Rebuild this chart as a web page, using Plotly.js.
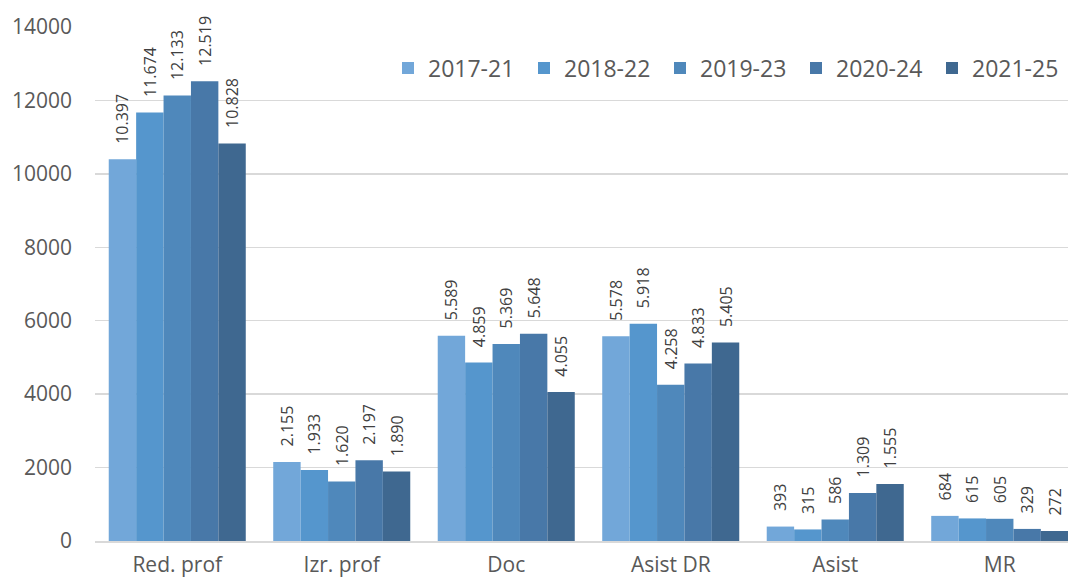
<!DOCTYPE html>
<html>
<head>
<meta charset="utf-8">
<script src="https://cdn.plot.ly/plotly-3.0.1.min.js"></script>
<style>
  html, body { margin: 0; padding: 0; background: #fff; }
  #chart { width: 1068px; height: 581px; }
</style>
</head>
<body>
<div id="chart"></div>
<script>
var categories = ['Red. prof', 'Izr. prof', 'Doc', 'Asist DR', 'Asist', 'MR'];
var seriesNames = ['2017-21', '2018-22', '2019-23', '2020-24', '2021-25'];
var v2017 = [10397, 2155, 5589, 5578, 393, 684];
var v2018 = [11674, 1933, 4859, 5918, 315, 615];
var v2019 = [12133, 1620, 5369, 4258, 586, 605];
var v2020 = [12519, 2197, 5648, 4833, 1309, 329];
var v2021 = [10828, 1890, 4055, 5405, 1555, 272];
var colors = ['#72a7d9', '#5596cd', '#4f88bb', '#4878a8', '#3f6890'];

var allValues = [v2017, v2018, v2019, v2020, v2021];
var data = [];
for (var i = 0; i < seriesNames.length; i++) {
  data.push({
    type: 'bar',
    name: seriesNames[i],
    x: categories,
    y: allValues[i],
    marker: { color: colors[i] },
    // non-breaking spaces push the rotated label up off the bar top
    texttemplate: '\u00a0\u00a0\u00a0%{y:,}',
    textposition: 'outside',
    textangle: -90,
    constraintext: 'none',
    cliponaxis: false,
    outsidetextfont: { family: 'Open Sans', size: 16, color: '#404040' },
    hoverinfo: 'x+y+name'
  });
}

var layout = {
  width: 1068,
  height: 581,
  margin: { l: 95, r: 0, t: 27, b: 40, autoexpand: false },
  paper_bgcolor: '#ffffff',
  plot_bgcolor: '#ffffff',
  separators: ',.',
  barmode: 'group',
  bargap: 0.167,
  bargroupgap: 0,
  font: { family: 'Open Sans', color: '#595959' },
  xaxis: {
    range: [-0.5, 5.415],
    showline: true,
    linecolor: '#d9d9d9',
    linewidth: 2,
    ticks: '',
    ticklabelstandoff: 4,
    tickfont: { size: 21, color: '#595959' },
    showgrid: false
  },
  yaxis: {
    range: [0, 14000],
    dtick: 2000,
    tick0: 0,
    showgrid: true,
    gridcolor: '#d9d9d9',
    gridwidth: 1.5,
    zeroline: false,
    showline: false,
    ticks: '',
    ticklabelstandoff: 22,
    tickformat: 'd',
    tickfont: { size: 21, color: '#595959' }
  },
  showlegend: true,
  legend: {
    orientation: 'h',
    x: 1,
    xanchor: 'right',
    y: 0.92,
    yanchor: 'middle',
    font: { size: 23, color: '#595959' },
    entrywidth: 91,
    entrywidthmode: 'pixels',
    bgcolor: 'rgba(0,0,0,0)'
  }
};

Plotly.newPlot('chart', data, layout, { displayModeBar: false, staticPlot: true });
</script>
</body>
</html>
